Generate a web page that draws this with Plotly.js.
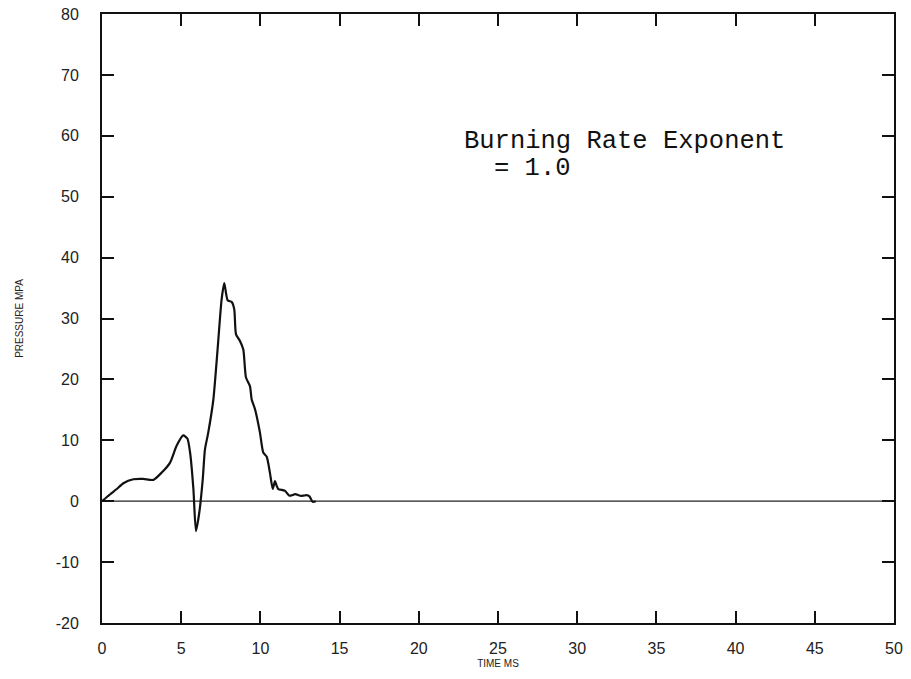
<!DOCTYPE html>
<html>
<head>
<meta charset="utf-8">
<script src="https://cdn.plot.ly/plotly-3.0.1.min.js"></script>
<style>html,body{margin:0;padding:0;background:#fff;}#chart{width:911px;height:679px;}</style>
</head>
<body>
<div id="chart"></div>
<script>
// Pressure-time trace (time in ms, pressure in MPa)
const timeMs = [0, 0.5, 0.93, 1.35, 1.98, 2.6, 3.24, 3.77, 4.29, 4.71, 5.13, 5.39, 5.56, 5.77, 5.93, 6.14, 6.36, 6.5, 6.71, 7.03, 7.3, 7.55, 7.72, 7.93, 8.19, 8.35, 8.46, 8.71, 8.92, 9.09, 9.34, 9.45, 9.66, 9.97, 10.18, 10.4, 10.6, 10.78, 10.92, 11.03, 11.13, 11.55, 11.83, 12.2, 12.5, 12.7, 12.9, 13.1, 13.3, 13.5];
const pressureMPa = [0, 1.1, 2.0, 2.95, 3.6, 3.66, 3.5, 4.7, 6.3, 9.1, 10.8, 10.3, 8.0, 2.0, -4.9, -1.9, 3.6, 8.5, 11.3, 16.7, 25.0, 33.1, 35.8, 33.0, 32.7, 31.5, 27.4, 26.3, 24.9, 20.3, 18.9, 16.7, 15.1, 11.3, 8.0, 7.3, 4.7, 2.0, 3.3, 2.5, 2.0, 1.7, 0.9, 1.15, 0.9, 0.9, 1.0, 0.8, -0.1, 0];
// Zero reference line
const zeroX = [0, 50];
const zeroY = [0, 0];
// Axis ticks
const xTicks = [0, 5, 10, 15, 20, 25, 30, 35, 40, 45, 50];
const yTicks = [-20, -10, 0, 10, 20, 30, 40, 50, 60, 70, 80];
const noteLine1 = "Burning Rate Exponent";
const noteLine2 = "= 1.0";

const traces = [
  {x: zeroX, y: zeroY, mode: 'lines', line: {color: '#222', width: 1.3}, hoverinfo: 'skip'},
  {x: timeMs, y: pressureMPa, mode: 'lines', line: {color: '#111', width: 2.2, shape: 'spline', smoothing: 0.6}}
];

const tickFont = {family: 'Liberation Sans, Arial, sans-serif', size: 16, color: '#222'};
const layout = {
  width: 911, height: 679,
  margin: {l: 102, r: 17, t: 14, b: 56},
  paper_bgcolor: '#fff', plot_bgcolor: '#fff',
  showlegend: false,
  xaxis: {
    range: [0, 50], tickvals: xTicks, ticktext: xTicks.map(String),
    ticks: 'inside', ticklen: 12, tickwidth: 2, tickcolor: '#111',
    showline: true, linewidth: 2, linecolor: '#111', mirror: 'ticks',
    showgrid: false, zeroline: false, tickfont: tickFont, ticklabelstandoff: 10,
    title: {text: 'TIME MS', font: {family: 'Liberation Sans, Arial, sans-serif', size: 10, color: '#222'}, standoff: 4}
  },
  yaxis: {
    range: [-20, 80], tickvals: yTicks, ticktext: yTicks.map(String),
    ticks: 'inside', ticklen: 12, tickwidth: 2, tickcolor: '#111',
    showline: true, linewidth: 2, linecolor: '#111', mirror: 'ticks',
    showgrid: false, zeroline: false, tickfont: tickFont, ticklabelstandoff: 18,
    title: {text: 'PRESSURE MPA', font: {family: 'Liberation Sans, Arial, sans-serif', size: 10, color: '#222'}, standoff: 30}
  },
  annotations: [
    {xref: 'paper', yref: 'paper', x: 0.4545, y: 0.79, xanchor: 'left', yanchor: 'middle', showarrow: false,
     text: noteLine1, font: {family: 'Liberation Mono, Courier New, monospace', size: 25.5, color: '#111'}},
    {xref: 'paper', yref: 'paper', x: 0.4924, y: 0.747, xanchor: 'left', yanchor: 'middle', showarrow: false,
     text: noteLine2, font: {family: 'Liberation Mono, Courier New, monospace', size: 25.5, color: '#111'}}
  ]
};

Plotly.newPlot('chart', traces, layout, {displayModeBar: false, staticPlot: true});
</script>
</body>
</html>
